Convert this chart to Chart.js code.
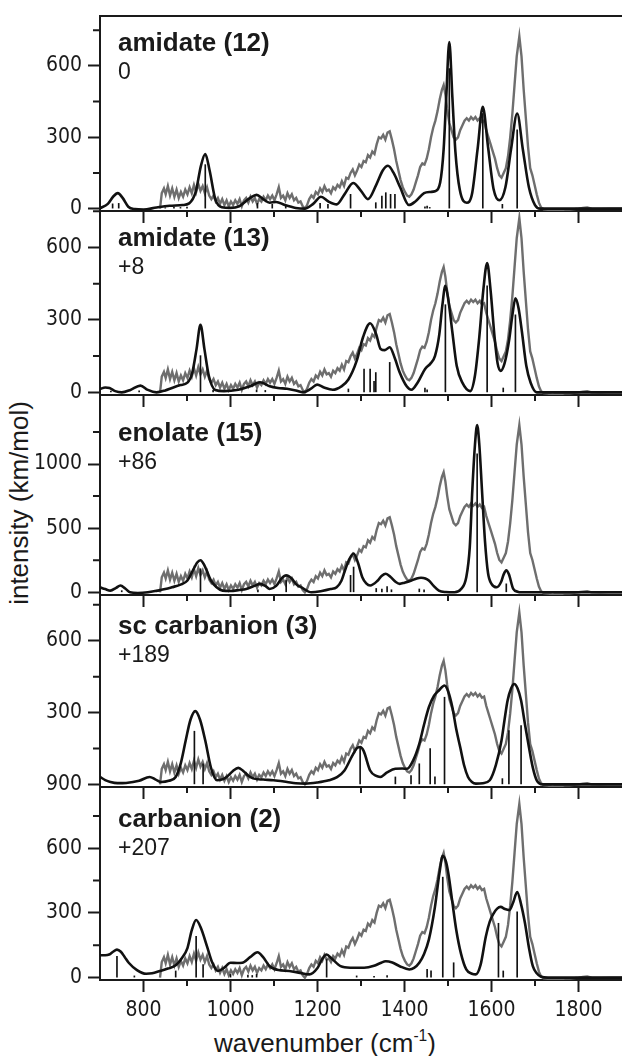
<!DOCTYPE html>
<html>
<head>
<meta charset="utf-8">
<script src="https://cdn.jsdelivr.net/npm/chart.js@4.4.1/dist/chart.umd.min.js"></script>
<style>
  html, body { margin: 0; padding: 0; background: #fff; }
  #fig { position: relative; width: 622px; height: 1056px; overflow: hidden; }
  #fig canvas { position: absolute; left: 0; }
  .axis-title {
    position: absolute; font: 26px 'Liberation Sans', Arial, sans-serif; color: #1a1a1a;
    white-space: nowrap; line-height: 1;
  }
  #ytitle { left: 19px; top: 503px; transform: translate(-50%, -50%) rotate(-90deg); }
  #xtitle { left: 325px; top: 1043px; transform: translate(-50%, -50%); }
</style>
</head>
<body>
<div id="fig">
  <div id="ytitle" class="axis-title">intensity (km/mol)</div>
  <div id="xtitle" class="axis-title">wavenumber (cm<sup style="font-size:60%;vertical-align:top;position:relative;top:-2px">-1</sup>)</div>
</div>
<script>
// ---- data ----
const xMajorTicks = [800, 1000, 1200, 1400, 1600, 1800];
const xMinorTicks = [900, 1100, 1300, 1500, 1700];

const panelNames = ['amidate (12)', 'amidate (13)', 'enolate (15)', 'sc carbanion (3)', 'carbanion (2)'];
const panelEnergies = ['0', '+8', '+86', '+189', '+207'];

const yMajorTicks = [[0, 300, 600], [0, 300, 600], [0, 500, 1000], [0, 300, 600], [0, 300, 600]];
const yTickLabels = [['0', '300', '600'], ['0', '300', '600'], ['0', '500', '1000'], ['900', '300', '600'], ['0', '300', '600']];
const yMinorTicks = [[150, 450, 750], [150, 450, 750], [250, 750, 1250], [150, 450, 750], [150, 450, 750]];

// height the experimental 1664 band reaches in each panel (panel units)
const expPeakInPanel = [724, 722, 1303, 718, 805];

// experimental spectrum (grey), in units of the top panel
const expWavenumber = [838, 842, 847, 851, 856, 861, 866, 871, 876, 881, 886, 891, 896, 901, 906, 911, 916, 921, 926, 931,
  936, 941, 946, 951, 956, 961, 966, 971, 976, 981, 986, 991, 996, 1001, 1006, 1011, 1016, 1021, 1026, 1031,
  1036, 1041, 1046, 1051, 1056, 1061, 1066, 1071, 1076, 1081, 1086, 1091, 1096, 1101, 1106, 1111, 1116, 1121, 1126, 1131,
  1136, 1141, 1146, 1151, 1156, 1161, 1166, 1171, 1176, 1181, 1186, 1191, 1196, 1201, 1206, 1211, 1216, 1221, 1226, 1231,
  1236, 1241, 1246, 1251, 1256, 1261, 1266, 1271, 1276, 1281, 1286, 1291, 1296, 1301, 1306, 1311, 1316, 1321, 1326, 1331,
  1336, 1341, 1346, 1351, 1356, 1361, 1366, 1371, 1376, 1381, 1386, 1391, 1396, 1401, 1406, 1411, 1416, 1421, 1426, 1431,
  1436, 1441, 1446, 1451, 1456, 1461, 1466, 1471, 1476, 1481, 1486, 1490, 1494, 1498, 1503, 1508, 1513, 1518, 1523, 1528,
  1533, 1538, 1543, 1548, 1553, 1558, 1563, 1568, 1573, 1578, 1583, 1588, 1593, 1598, 1603, 1608, 1613, 1618, 1623, 1628,
  1633, 1638, 1643, 1648, 1653, 1658, 1664, 1669, 1674, 1679, 1684, 1689, 1694, 1699, 1704, 1709, 1714, 1720, 1730, 1740,
  1750, 1760, 1770, 1780, 1790, 1800, 1810, 1820, 1830, 1850, 1870, 1900];
const expIntensity = [0, 65, 85, 60, 95, 55, 85, 50, 80, 45, 70, 50, 80, 60, 90, 65, 100, 70, 105, 75,
  95, 65, 90, 55, 40, 55, 30, 45, 20, 40, 15, 35, 10, 30, 15, 35, 20, 40, 10, 35,
  45, 25, 50, 30, 45, 20, 40, 30, 50, 35, 55, 40, 55, 35, 60, 90, 45, 55, 35, 65,
  45, 60, 35, 45, 25, 30, 10, 0, 15, 40, 55, 45, 70, 60, 85, 70, 95, 75, 80, 65,
  90, 80, 100, 90, 115, 95, 130, 125, 150, 165, 140, 160, 185, 175, 200, 195, 225, 215, 240, 230,
  270, 300, 295, 310, 290, 320, 325, 290, 250, 200, 160, 120, 90, 70, 55, 50, 60, 80, 110, 140,
  175, 190, 185, 210, 250, 300, 340, 370, 410, 460, 500, 520, 480, 420, 360, 330, 300, 290, 300, 330,
  350, 370, 380, 370, 385, 375, 385, 370, 380, 365, 370, 330, 300, 270, 240, 210, 170, 140, 130, 150,
  170, 220, 300, 400, 520, 640, 724, 640, 500, 380, 260, 170, 140, 100, 60, 25, 5, -3, -5, -10,
  -6, -8, -3, -4, -2, 0, 3, 5, 0, -1, 0, 0];

// computed spectra (black), [wavenumber, km/mol]
const calcAmidate12 = [[700, 2], [718, 20], [730, 50], [741, 65], [752, 45], [765, 8], [780, -2], [800, -4], [830, 5], [860, 12],
  [890, 15], [905, 22], [920, 70], [932, 180], [942, 230], [952, 160], [965, 40], [980, 6], [1000, 3], [1020, 10],
  [1045, 45], [1060, 58], [1075, 40], [1090, 25], [1105, 28], [1125, 15], [1150, 3], [1170, 0], [1190, 20], [1208, 50],
  [1225, 30], [1244, 18], [1262, 60], [1282, 108], [1300, 75], [1316, 40], [1335, 100], [1350, 160], [1362, 180], [1375, 150],
  [1390, 90], [1410, 15], [1425, 30], [1445, 65], [1460, 70], [1470, 73], [1482, 110], [1490, 250], [1496, 470], [1503, 700],
  [1510, 470], [1517, 240], [1527, 80], [1543, 25], [1555, 60], [1568, 250], [1580, 428], [1592, 260], [1605, 80], [1618, 35],
  [1632, 90], [1645, 250], [1659, 400], [1672, 250], [1686, 90], [1700, 15], [1712, 0], [1900, 0]];
const calcAmidate13 = [[700, 14], [712, 20], [722, 18], [735, 5], [750, 0], [770, 10], [793, 28], [810, 10], [830, 0], [850, 8],
  [865, 18], [885, 30], [901, 40], [912, 80], [922, 180], [931, 280], [940, 180], [950, 70], [965, 10], [985, 5],
  [1018, 11], [1045, 25], [1068, 42], [1090, 25], [1109, 18], [1130, 15], [1150, 8], [1167, 0], [1185, 15], [1199, 32],
  [1215, 20], [1235, 11], [1255, 25], [1271, 53], [1290, 130], [1305, 230], [1321, 286], [1335, 240], [1345, 180], [1355, 175],
  [1366, 187], [1378, 140], [1389, 82], [1405, 25], [1416, 11], [1430, 40], [1447, 96], [1460, 120], [1470, 150], [1480, 240],
  [1487, 360], [1494, 441], [1501, 380], [1510, 250], [1520, 110], [1533, 40], [1551, 5], [1562, 70], [1572, 230], [1581, 420],
  [1590, 535], [1598, 420], [1607, 230], [1614, 120], [1621, 89], [1630, 120], [1641, 222], [1648, 320], [1655, 389], [1662, 350],
  [1670, 250], [1680, 110], [1690, 40], [1704, 0], [1900, 0]];
const calcEnolate15 = [[700, 39], [712, 25], [724, 13], [737, 35], [747, 53], [758, 30], [769, 0], [787, -5], [810, 0], [832, 13],
  [850, 25], [865, 39], [885, 60], [901, 92], [915, 180], [923, 230], [931, 250], [940, 210], [955, 92], [968, 40],
  [982, 13], [1000, 10], [1020, 18], [1036, 26], [1055, 50], [1068, 66], [1080, 50], [1090, 26], [1105, 50], [1118, 110],
  [1128, 132], [1140, 110], [1152, 60], [1163, 39], [1186, 0], [1210, 10], [1230, 25], [1244, 39], [1255, 90], [1262, 158],
  [1272, 250], [1283, 303], [1293, 230], [1303, 118], [1312, 70], [1321, 53], [1338, 90], [1348, 130], [1357, 145], [1368, 120],
  [1380, 80], [1389, 66], [1400, 75], [1416, 92], [1428, 108], [1438, 113], [1448, 108], [1456, 92], [1467, 50], [1479, 13],
  [1495, 2], [1515, 0], [1530, 25], [1542, 118], [1550, 350], [1556, 803], [1562, 1150], [1567, 1303], [1572, 1150], [1578, 803],
  [1585, 400], [1592, 150], [1600, 66], [1612, 39], [1622, 80], [1628, 140], [1634, 171], [1640, 140], [1650, 26], [1660, 5],
  [1668, 0], [1900, 0]];
const calcScCarbanion3 = [[700, 31], [712, 18], [724, 10], [740, 5], [760, 6], [790, 15], [814, 31], [828, 20], [841, 10], [858, 15],
  [874, 31], [886, 90], [897, 183], [908, 270], [919, 306], [930, 270], [942, 183], [955, 70], [969, 17], [980, 20],
  [991, 31], [1005, 55], [1018, 69], [1030, 55], [1042, 35], [1054, 24], [1075, 20], [1099, 17], [1130, 10], [1150, 5],
  [1172, 3], [1200, 8], [1226, 17], [1245, 30], [1262, 58], [1280, 120], [1290, 150], [1298, 156], [1306, 140], [1321, 58],
  [1335, 35], [1344, 31], [1360, 50], [1379, 65], [1395, 66], [1406, 65], [1420, 100], [1434, 169], [1445, 250], [1456, 322],
  [1468, 370], [1479, 392], [1492, 413], [1500, 390], [1510, 322], [1519, 230], [1528, 156], [1537, 80], [1546, 31], [1555, 10],
  [1564, 3], [1580, 5], [1596, 17], [1610, 80], [1623, 183], [1630, 270], [1637, 350], [1645, 400], [1652, 419], [1660, 400],
  [1668, 350], [1677, 250], [1686, 156], [1695, 70], [1704, 17], [1718, 0], [1900, 0]];
const calcCarbanion2 = [[700, 104], [712, 104], [721, 107], [730, 120], [739, 130], [748, 120], [757, 95], [766, 69], [785, 35], [806, 18],
  [820, 20], [838, 31], [856, 42], [874, 57], [888, 90], [901, 137], [911, 220], [921, 267], [932, 230], [946, 145],
  [958, 70], [971, 31], [985, 45], [1000, 69], [1015, 68], [1027, 69], [1045, 95], [1062, 118], [1075, 95], [1090, 53],
  [1110, 35], [1135, 31], [1160, 22], [1181, 15], [1200, 45], [1212, 90], [1221, 107], [1232, 90], [1253, 53], [1275, 46],
  [1307, 46], [1330, 55], [1345, 68], [1357, 76], [1372, 70], [1389, 53], [1411, 38], [1422, 45], [1434, 69], [1445, 110],
  [1456, 176], [1470, 328], [1480, 480], [1488, 565], [1495, 540], [1501, 481], [1510, 350], [1519, 221], [1530, 110], [1542, 38],
  [1555, 18], [1564, 15], [1575, 60], [1587, 191], [1596, 260], [1605, 298], [1613, 320], [1621, 328], [1631, 318], [1641, 313],
  [1650, 350], [1659, 397], [1668, 340], [1677, 252], [1686, 140], [1695, 53], [1704, 20], [1713, 5], [1730, 0], [1900, 0]];

// computed stick spectra, [wavenumber, km/mol]
const sticksAmidate12 = [[729, 20], [743, 22], [850, 4], [870, 6], [885, 5], [900, 7], [942, 185], [1062, 22], [1096, 18], [1127, 10],
  [1206, 22], [1224, 18], [1276, 60], [1334, 25], [1348, 53], [1357, 67], [1368, 60], [1378, 60], [1447, 8], [1452, 11],
  [1458, 5], [1503, 589], [1580, 400], [1625, 18], [1659, 331]];
const sticksAmidate13 = [[725, 5], [790, 6], [931, 152], [960, 8], [1060, 10], [1080, 8], [1271, 14], [1307, 96], [1321, 96], [1330, 46],
  [1334, 82], [1366, 124], [1447, 18], [1452, 10], [1494, 363], [1590, 441], [1627, 18], [1655, 321]];
const sticksEnolate15 = [[750, 13], [931, 184], [1063, 20], [1128, 92], [1276, 132], [1283, 197], [1335, 30], [1348, 25], [1360, 45], [1370, 20],
  [1434, 26], [1445, 20], [1567, 1079], [1634, 66]];
const sticksScCarbanion3 = [[917, 222], [937, 86], [1298, 156], [1379, 31], [1415, 37], [1434, 86], [1459, 149], [1470, 31], [1492, 364], [1625, 24],
  [1640, 225], [1668, 246]];
const sticksCarbanion2 = [[739, 99], [779, 8], [874, 31], [921, 191], [937, 61], [1000, 15], [1040, 12], [1050, 10], [1060, 15], [1221, 84],
  [1290, 8], [1330, 6], [1360, 10], [1452, 38], [1461, 31], [1488, 466], [1513, 69], [1616, 252], [1627, 31], [1659, 305]];

const calcSeries = [calcAmidate12, calcAmidate13, calcEnolate15, calcScCarbanion3, calcCarbanion2];
const stickSeries = [sticksAmidate12, sticksAmidate13, sticksEnolate15, sticksScCarbanion3, sticksCarbanion2];

// ---- layout ----
const panelEdges = [16, 211, 395, 595, 787, 980];
const labelDrop = [0, 0, 11, 4, 5];
const yRanges = [[-10, 810], [-11, 751], [-21, 1538], [-11, 791], [-11, 884]];
const ink = '#1a1a1a';
const tickFamily = "'Liberation Sans Narrow', 'DejaVu Sans Condensed', sans-serif";
const textFamily = "'Liberation Sans', Arial, sans-serif";
const topPad = 4;

const minorTicks = {
  id: 'minorTicks',
  afterDraw(chart, args, opts) {
    const { ctx, chartArea, scales } = chart;
    ctx.save();
    ctx.strokeStyle = ink;
    ctx.lineWidth = 2;
    ctx.beginPath();
    for (const v of opts.x) {
      const px = scales.x.getPixelForValue(v);
      ctx.moveTo(px, chartArea.bottom);
      ctx.lineTo(px, chartArea.bottom + 6);
    }
    for (const v of opts.y) {
      const py = scales.y.getPixelForValue(v);
      ctx.moveTo(chartArea.left, py);
      ctx.lineTo(chartArea.left - 7, py);
    }
    ctx.stroke();
    ctx.restore();
  }
};

const panelLabel = {
  id: 'panelLabel',
  afterDatasetsDraw(chart, args, opts) {
    const { ctx, chartArea } = chart;
    ctx.save();
    ctx.fillStyle = ink;
    ctx.textBaseline = 'alphabetic';
    ctx.font = 'bold 26px ' + textFamily;
    ctx.fillText(opts.name, chartArea.left + 18, chartArea.top + 35 + opts.drop);
    ctx.font = '23px ' + textFamily;
    ctx.fillText(opts.energy, chartArea.left + 18, chartArea.top + 63 + opts.drop);
    ctx.restore();
  }
};

const fig = document.getElementById('fig');

for (let k = 0; k < 5; k++) {
  const last = k === 4;
  const top = panelEdges[k];
  const bottom = panelEdges[k + 1];
  const xAxisH = last ? 1056 - bottom : 14;
  const h = bottom - top + topPad + xAxisH;

  const canvas = document.createElement('canvas');
  canvas.width = 622;
  canvas.height = h;
  canvas.style.top = (top - topPad) + 'px';
  canvas.style.width = '622px';
  canvas.style.height = h + 'px';
  fig.appendChild(canvas);

  const [ymin, ymax] = yRanges[k];
  const expScale = expPeakInPanel[0] / expPeakInPanel[k];

  const scales = {
    x: {
      type: 'linear', position: 'bottom', min: 700, max: 1900, offset: false,
      afterBuildTicks: s => { s.ticks = xMajorTicks.map(v => ({ value: v })); },
      afterFit: s => { s.height = xAxisH; s.paddingLeft = 0; s.paddingRight = 0; },
      border: { display: true, color: ink, width: 2 },
      grid: { offset: false, drawOnChartArea: false, drawTicks: true, tickLength: 12, tickWidth: 2, tickColor: ink },
      ticks: { display: last, color: ink, padding: 6, maxRotation: 0, autoSkip: false,
               font: { family: tickFamily, size: 21 }, callback: v => String(v) }
    },
    y: {
      type: 'linear', position: 'left', min: ymin, max: ymax,
      afterBuildTicks: s => { s.ticks = yMajorTicks[k].map(v => ({ value: v })); },
      afterFit: s => { s.width = 100; s.paddingTop = 0; s.paddingBottom = 0; },
      border: { display: true, color: ink, width: 2 },
      grid: { drawOnChartArea: false, drawTicks: true, tickLength: 12, tickWidth: 2, tickColor: ink },
      ticks: { color: ink, padding: 6, font: { family: tickFamily, size: 21 },
               callback: v => yTickLabels[k][yMajorTicks[k].indexOf(v)] }
    },
    yExp: { type: 'linear', display: false, min: ymin * expScale, max: ymax * expScale }
  };
  if (k === 0) {
    scales.xTop = {
      type: 'linear', position: 'top', min: 700, max: 1900, offset: false,
      afterFit: s => { s.height = 0; },
      border: { display: true, color: ink, width: 2 },
      grid: { display: false }, ticks: { display: false }
    };
  }

  new Chart(canvas, {
    type: 'line',
    data: {
      datasets: [
        { type: 'line', data: calcSeries[k].map(([x, y]) => ({ x, y })), yAxisID: 'y',
          borderColor: '#111', borderWidth: 2.6, pointRadius: 0, cubicInterpolationMode: 'monotone', order: 1 },
        { type: 'bar', data: stickSeries[k].map(([x, y]) => ({ x, y })), yAxisID: 'y',
          backgroundColor: '#111', borderWidth: 0, barThickness: 1, order: 2 },
        { type: 'line', data: expWavenumber.map((x, i) => ({ x, y: expIntensity[i] })), yAxisID: 'yExp',
          borderColor: '#6e6e6e', borderWidth: 2.4, pointRadius: 0, tension: 0, order: 3 }
      ]
    },
    options: {
      responsive: false, animation: false, devicePixelRatio: 1, events: [],
      layout: { padding: { top: topPad, left: 0, right: 0, bottom: 0 } },
      scales,
      plugins: {
        legend: { display: false }, tooltip: { enabled: false },
        minorTicks: { x: xMinorTicks, y: yMinorTicks[k] },
        panelLabel: { name: panelNames[k], energy: panelEnergies[k], drop: labelDrop[k] }
      }
    },
    plugins: [minorTicks, panelLabel]
  });
}
</script>
</body>
</html>
